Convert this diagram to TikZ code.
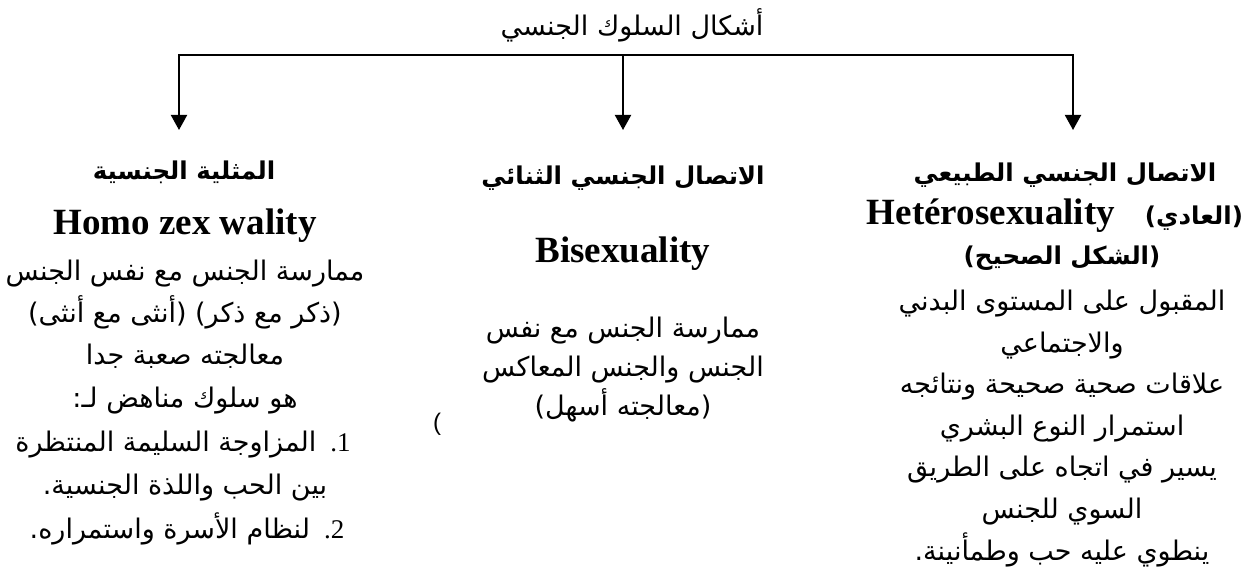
\documentclass[tikz,border=0pt]{standalone}
\usepackage{fontspec}
\setmainfont{Liberation Serif}
\newfontfamily\ar[Script=Arabic]{DejaVu Sans}
\newfontfamily\tnr{Liberation Serif}
\newfontfamily\lsans{Liberation Sans}
\TeXXeTstate=1
\usetikzlibrary{arrows.meta}
\begin{document}
\begin{tikzpicture}[x=1pt,y=-1pt,
  txt/.style={inner sep=0pt, anchor=base, font=\ar\fontsize{27}{30}\selectfont},
  hd/.style={inner sep=0pt, anchor=base, font=\ar\bfseries\fontsize{24.5}{28}\selectfont},
  lat/.style={inner sep=0pt, anchor=base, font=\tnr\bfseries\fontsize{37}{40}\selectfont},
  conn/.style={line width=2pt, line cap=rect},
  arr/.style={line width=2pt, -{Triangle[width=16pt,length=15pt]}}]
\useasboundingbox (0,0) rectangle (1252,577);
% title and connectors
\node[txt] (title) at (632,36) {\beginR أشكال السلوك الجنسي\endR};
\coordinate (jl) at (179,55);
\coordinate (jm) at (623,55);
\coordinate (jr) at (1073,55);
\coordinate (al) at (179,130);
\coordinate (am) at (623,130);
\coordinate (ar) at (1073,130);
\draw[conn] (jl) -- (jr);
\draw[arr] (jl) -- (al);
\draw[arr] (jm) -- (am);
\draw[arr] (jr) -- (ar);
% left column
\node[hd] (l1) at (184,180) {\beginR المثلية الجنسية\endR};
\node[lat] (l2) at (185,235) {Homo zex wality};
\node[txt] (l3) at (185,280) {\beginR ممارسة الجنس مع نفس الجنس\endR};
\node[txt] (l4) at (185,322) {\beginR (ذكر مع ذكر) (أنثى مع أنثى)\endR};
\node[txt] (l5) at (185,364) {\beginR معالجته صعبة جدا\endR};
\node[txt] (l6) at (185,407) {:\beginR هو سلوك مناهض لـ\endR};
\node[txt] (l7) at (183,451) {\beginR المزاوجة السليمة المنتظرة\endR\hspace{14pt}\hbox{\tnr .}\hbox{\tnr 1}};
\node[txt] (l8) at (185,494) {.\beginR بين الحب واللذة الجنسية\endR};
\node[txt] (l9) at (187,538) {.\beginR لنظام الأسرة واستمراره\endR\hspace{14pt}\hbox{\tnr .}\hbox{\tnr 2}};
% middle column
\node[hd] (m1) at (623,185) {\beginR الاتصال الجنسي الثنائي\endR};
\node[lat] (m2) at (623,262) {Bisexuality};
\node[txt] (m3) at (623,337) {\beginR ممارسة الجنس مع نفس\endR};
\node[txt] (m4) at (623,376) {\beginR الجنس والجنس المعاكس\endR};
\node[txt] (m5) at (623,415) {\beginR (معالجته أسهل)\endR};
\node[inner sep=0pt, anchor=base, font=\lsans\fontsize{24}{28}\selectfont] (stray) at (437,430) {(};
% right column
\node[hd] (r1) at (1065,182) {\beginR الاتصال الجنسي الطبيعي\endR};
\node[lat] (r2) at (1055,225) {Hetérosexuality\hspace{30pt}{\ar\bfseries\fontsize{24.5}{28}\selectfont\beginR (العادي)\endR}};
\node[hd] (r3) at (1062,265) {\beginR (الشكل الصحيح)\endR};
\node[txt] (r4) at (1062,310) {\beginR المقبول على المستوى البدني\endR};
\node[txt] (r5) at (1062,352) {\beginR والاجتماعي\endR};
\node[txt] (r6) at (1062,393) {\beginR علاقات صحية صحيحة ونتائجه\endR};
\node[txt] (r7) at (1062,435) {\beginR استمرار النوع البشري\endR};
\node[txt] (r8) at (1062,476) {\beginR يسير في اتجاه على الطريق\endR};
\node[txt] (r9) at (1062,518) {\beginR السوي للجنس\endR};
\node[txt] (r10) at (1062,560) {.\beginR ينطوي عليه حب وطمأنينة\endR};
\end{tikzpicture}
\end{document}
